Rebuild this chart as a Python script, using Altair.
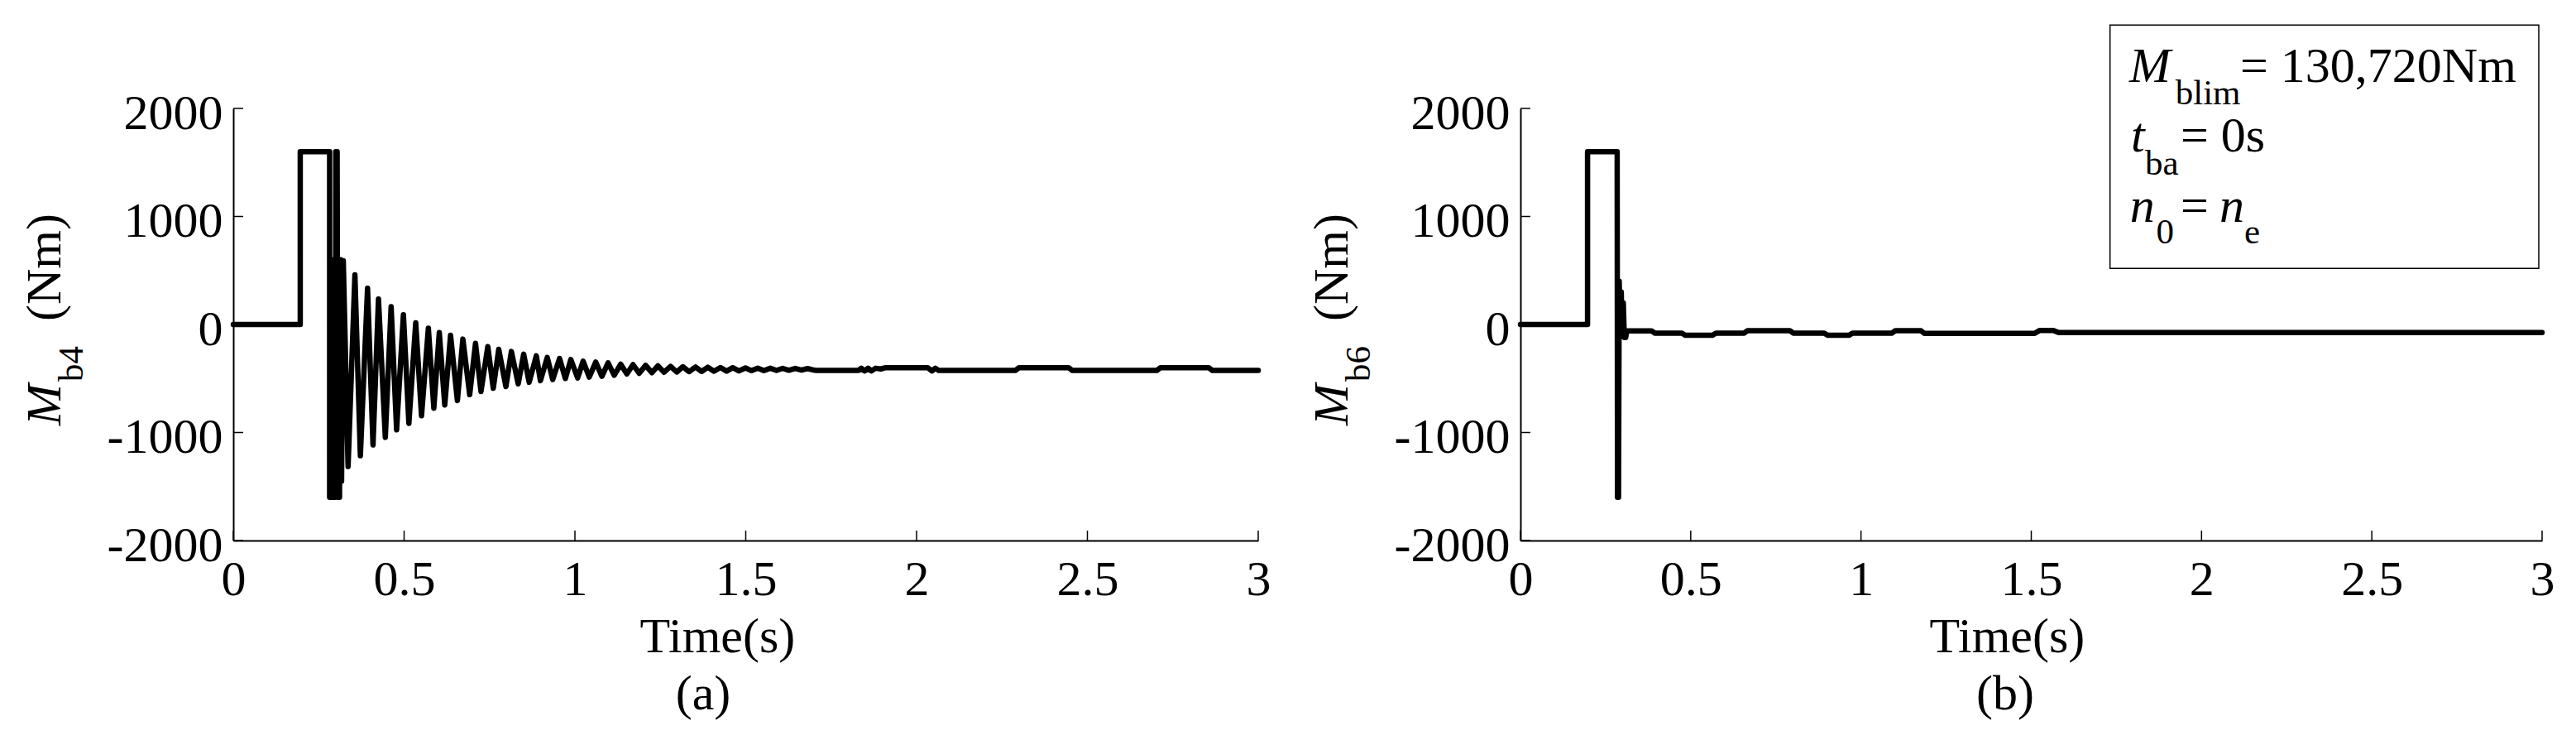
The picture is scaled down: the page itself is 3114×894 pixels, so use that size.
import altair as alt
import pandas as pd

# ---------------- data ----------------
x_ticks = [0, 0.5, 1, 1.5, 2, 2.5, 3]
y_ticks = [-2000, -1000, 0, 1000, 2000]

mb4_t = [0.000, 0.196, 0.196, 0.282, 0.282, 0.286, 0.288, 0.290, 0.293, 0.296, 0.299,
         0.300, 0.304, 0.306, 0.311, 0.314, 0.317,
         0.322, 0.336, 0.356, 0.372, 0.393, 0.409, 0.425, 0.445, 0.462, 0.478,
         0.498, 0.514, 0.534, 0.551, 0.571, 0.587, 0.603, 0.619, 0.636, 0.656,
         0.672, 0.692, 0.709, 0.725, 0.745, 0.761, 0.777, 0.798, 0.814, 0.834,
         0.850, 0.866, 0.887, 0.899, 0.919, 0.935, 0.955, 0.972, 0.988, 1.008,
         1.024, 1.042, 1.061, 1.079, 1.097, 1.115, 1.134, 1.152, 1.170, 1.188,
         1.207, 1.225, 1.243, 1.261, 1.280, 1.298, 1.316, 1.334, 1.353, 1.371,
         1.389, 1.407, 1.426, 1.444, 1.462, 1.480, 1.499, 1.517, 1.535, 1.553,
         1.572, 1.590, 1.608, 1.626, 1.645, 1.663, 1.681, 1.699,
         1.706, 1.829, 1.838, 1.848, 1.858, 1.868, 1.880, 1.895, 1.910, 2.033,
         2.045, 2.055, 2.065, 2.289, 2.300, 2.445, 2.456, 2.703, 2.714, 2.855,
         2.866, 3.000]
mb4_v = [0, 0, 1600, 1600, -1600, -1600, 600, -1600, -1600, 550, -1600,
         1600, 1600, -1600, -1600, 600, -1450,
         590, -1315, 460, -1215, 335, -1115, 235, -1045, 165, -975,
         90, -915, 15, -845, -35, -775, -75, -745, -100, -705,
         -135, -650, -175, -620, -205, -590, -230, -575, -250, -550,
         -275, -535, -290, -520, -305, -510, -315, -500, -325, -495,
         -340, -487, -348, -480, -355, -470, -368, -458, -372, -452,
         -378, -446, -383, -442, -388, -440, -391, -437, -394, -435,
         -396, -433, -398, -432, -400, -430, -402, -428, -404, -427,
         -405, -425, -406, -424, -407, -423, -408, -422,
         -426, -426, -405, -430, -405, -430, -405, -412, -400, -400,
         -430, -405, -426, -426, -400, -400, -426, -426, -400, -400,
         -426, -426]

mb6_t = [0.000, 0.197, 0.197, 0.284, 0.285, 0.288, 0.290, 0.293, 0.296, 0.299,
         0.302, 0.305, 0.309, 0.312, 0.385, 0.395, 0.474, 0.484, 0.564, 0.574,
         0.657, 0.667, 0.791, 0.801, 0.892, 0.902, 0.965, 0.975, 1.091, 1.101,
         1.176, 1.186, 1.510, 1.525, 1.565, 1.580, 3.000]
mb6_v = [0, 0, 1600, 1600, -1600, -1600, 400, -100, 300, -110,
         200, -120, -120, -60, -60, -80, -80, -100, -100, -80,
         -80, -57, -57, -80, -80, -100, -100, -80, -80, -57,
         -57, -82, -82, -55, -55, -74, -74]

FONT = "Liberation Serif"
FS = 60
FS_SUB = 43
W_L, W_R, H = 1239, 1235, 522

one = pd.DataFrame({"k": [0]})
xscale = alt.Scale(domain=[0, 3], nice=False, zero=False)
yscale = alt.Scale(domain=[-2000, 2000], nice=False, zero=False)

xaxis = alt.Axis(
    values=x_ticks, title=None, ticks=False, tickSize=0, grid=False,
    domainColor="black", domainWidth=2, labelFont=FONT, labelFontSize=FS,
    labelColor="black", labelPadding=65, labelBaseline="alphabetic",
    labelFlush=False, labelOverlap=False, labelExpr="'' + datum.value")
yaxis = alt.Axis(
    values=y_ticks, title=None, ticks=False, tickSize=0, grid=False,
    domainColor="black", domainWidth=2, labelFont=FONT, labelFontSize=FS,
    labelColor="black", labelPadding=13, labelBaseline="middle",
    labelOffset=6, labelOverlap=False, labelExpr="'' + datum.value")


def txt(s, x, y, size=FS, italic=False, angle=0, align="left"):
    kw = dict(text=s, font=FONT, fontSize=size, align=align,
              baseline="alphabetic", color="black")
    if italic:
        kw["fontStyle"] = "italic"
    if angle:
        kw["angle"] = angle
    return alt.Chart(one).mark_text(**kw).encode(x=alt.value(x), y=alt.value(y))


def panel(ts, vs, sub, letter, W, time_x, letter_x, extra=None, anchor=False):
    df = pd.DataFrame({"t": ts, "v": vs, "i": list(range(len(ts)))})
    line = alt.Chart(df).mark_line(
        color="black", strokeWidth=6.5, strokeJoin="round", strokeCap="round"
    ).encode(
        x=alt.X("t:Q", scale=xscale, axis=xaxis),
        y=alt.Y("v:Q", scale=yscale, axis=yaxis),
        order="i:Q",
    )
    xt = alt.Chart(pd.DataFrame({"t": x_ticks})).mark_rule(
        color="black", strokeWidth=1.5
    ).encode(x=alt.X("t:Q", scale=xscale, axis=xaxis),
             y=alt.value(H), y2=alt.value(H - 12))
    yt = alt.Chart(pd.DataFrame({"v": y_ticks})).mark_rule(
        color="black", strokeWidth=1.5
    ).encode(y=alt.Y("v:Q", scale=yscale, axis=yaxis),
             x=alt.value(0), x2=alt.value(12))
    layers = [line, xt, yt,
              txt("M", -209, 383, italic=True, angle=270),
              txt(sub, -182, 330, size=FS_SUB, angle=270),
              txt("(Nm)", -209, 257, angle=270),
              txt("Time(s)", time_x, 657, align="center"),
              txt(letter, letter_x, 726, align="center")]
    if extra:
        layers += extra
    if anchor:
        layers.append(alt.Chart(one).mark_rect(opacity=0).encode(
            x=alt.value(-272.6), x2=alt.value(-271.6),
            y=alt.value(-122), y2=alt.value(-121)))
    return alt.layer(*layers).properties(width=W, height=H)


box = alt.Chart(one).mark_rect(fill="white", stroke="black", strokeWidth=1.5).encode(
    x=alt.value(712.7), x2=alt.value(1231), y=alt.value(-100.7), y2=alt.value(193.3))
legend = [
    box,
    txt("M", 736, -32.3, italic=True),
    txt("blim", 791.7, -5, size=FS_SUB),
    txt("= 130,720Nm", 870, -32.3),
    txt("t", 738, 51.7, italic=True),
    txt("ba", 755, 80, size=FS_SUB),
    txt("= 0s", 798, 51.7),
    txt("n", 736.7, 136.7, italic=True),
    txt("0", 768.4, 163.3, size=FS_SUB),
    txt("=", 798, 136.7),
    txt("n", 845, 136.7, italic=True),
    txt("e", 875.1, 163.3, size=FS_SUB),
]

left = panel(mb4_t, mb4_v, "b4", "(a)", W_L, 585.4, 568, anchor=True)
right = panel(mb6_t, mb6_v, "b6", "(b)", W_R, 588.4, 586, extra=legend)

chart = alt.hconcat(left, right, spacing=317, bounds="flush").properties(
    padding=0
).configure_view(stroke="transparent")

chart.save("out.html", embed_options={"renderer": "svg", "actions": False})
